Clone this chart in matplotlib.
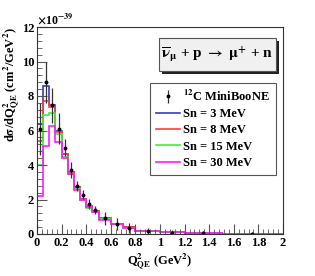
import matplotlib
matplotlib.use("Agg")
import matplotlib.pyplot as plt
import matplotlib.patches as mpatches
import numpy as np

plt.rcParams['font.family'] = ['Liberation Serif', 'DejaVu Serif']
plt.rcParams['font.weight'] = 'bold'
plt.rcParams['mathtext.fontset'] = 'stix'
plt.rcParams['mathtext.default'] = 'bf'

# Q2 bin edges (GeV^2)
edges = [0, 0.05, 0.1, 0.15, 0.2, 0.25, 0.3, 0.35, 0.4, 0.45, 0.5,
         0.6, 0.7, 0.8, 1.0, 1.2, 1.5, 2.0]

# model histograms (x 1e-39 cm^2/GeV^2)
sn3 = [6.4, 8.6, 7.45, 6.0, 4.65, 3.6, 2.75, 2.05, 1.65, 1.35, 0.9, 0.58, 0.38, 0.18, 0.09, 0.04, 0.01]
sn8 = [5.4, 7.7, 7.35, 5.9, 4.65, 3.6, 2.75, 2.05, 1.6, 1.35, 0.9, 0.58, 0.38, 0.18, 0.09, 0.04, 0.01]
sn15 = [4.0, 6.9, 7.0, 5.8, 4.45, 3.5, 2.6, 1.95, 1.5, 1.25, 0.85, 0.56, 0.37, 0.18, 0.09, 0.04, 0.01]
sn30 = [2.2, 5.1, 6.25, 5.35, 4.4, 3.5, 2.55, 1.95, 1.58, 1.29, 0.81, 0.56, 0.37, 0.17, 0.09, 0.04, 0.01]

# MiniBooNE data
q2_pts = [0.025, 0.075, 0.125, 0.175, 0.225, 0.275, 0.325, 0.375, 0.425, 0.475,
          0.55, 0.65, 0.75, 0.9, 1.1, 1.35, 1.75]
data = [6.1, 8.8, 7.45, 6.1, 5.0, 3.7, 2.8, 2.28, 1.74, 1.39, 0.91, 0.56, 0.35, 0.17, 0.08, 0.03, 0.01]
err = [1.5, 1.2, 1.0, 0.9, 0.5, 0.45, 0.3, 0.25, 0.28, 0.25, 0.37, 0.35, 0.3, 0.2, 0.15, 0.12, 0.1]

xticks = [0, 0.2, 0.4, 0.6, 0.8, 1.0, 1.2, 1.4, 1.6, 1.8, 2.0]
xtick_labels = ['0', '0.2', '0.4', '0.6', '0.8', '1', '1.2', '1.4', '1.6', '1.8', '2']
yticks = [0, 2, 4, 6, 8, 10, 12]
ytick_labels = ['0', '2', '4', '6', '8', '10', '12']

W, H = 315, 276
fig = plt.figure(figsize=(W / 100, H / 100), dpi=100)
ax = fig.add_axes([37 / W, (H - 234) / H, 246 / W, 207 / H])

lw = 1.2
ax.stairs(sn3, edges, color='#3a3ad0', lw=lw, label='Sn = 3 MeV')
ax.stairs(sn8, edges, color='#ff3c3c', lw=lw, label='Sn = 8 MeV')
ax.stairs(sn15, edges, color='#3cf03c', lw=lw, label='Sn = 15 MeV')
ax.stairs(sn30, edges, color='#ff1aff', lw=lw, label='Sn = 30 MeV')
eb = ax.errorbar(q2_pts, data, yerr=err, fmt='o', color='black', ecolor='#333333',
                 ms=1.8, elinewidth=0.9, capsize=0, label='$^{12}$C MiniBooNE')

ax.set_xlim(0, 2)
ax.set_ylim(0, 12)
ax.set_xticks(xticks)
ax.set_xticklabels(xtick_labels)
ax.set_yticks(yticks)
ax.set_yticklabels(ytick_labels)
ax.set_xticks(np.arange(0, 2.001, 0.04), minor=True)
ax.set_yticks(np.arange(0, 12.001, 0.4), minor=True)
ax.tick_params(which='both', direction='in', top=False, right=False,
               labelsize=9, pad=2, color='#555555')
ax.tick_params(which='major', length=7)
ax.tick_params(which='minor', length=3.5)
for lab in ax.get_xticklabels() + ax.get_yticklabels():
    lab.set_fontweight('bold')
for s in ax.spines.values():
    s.set_linewidth(0.8)
    s.set_color('#333333')

fig.text(37 / W, 1 - 27 / H, r'$\times$10$^{-39}$', fontsize=8.5,
         ha='left', va='bottom')
fig.text(160 / W, 1 - 262 / H, r'Q$^{2}_{\mathbf{QE}}$ (GeV$^{2}$)',
         fontsize=9, ha='center', va='center')
fig.text(12 / W, 1 - 27 / H,
         r'd$\sigma$/dQ$^{2}_{\mathbf{QE}}$ (cm$^{2}$/GeV$^{2}$)',
         fontsize=9, rotation=90, ha='center', va='top')

# title box with shadow
bx0, by0, bx1, by1 = 159, 38, 276, 71
fig.patches.append(mpatches.Rectangle((bx0 / W + 3 / W, 1 - by1 / H - 3 / H),
                                      (bx1 - bx0) / W, (by1 - by0) / H,
                                      transform=fig.transFigure, fc='#222222', ec='none'))
fig.patches.append(mpatches.Rectangle((bx0 / W, 1 - by1 / H),
                                      (bx1 - bx0) / W, (by1 - by0) / H,
                                      transform=fig.transFigure, fc='#f0f0f0',
                                      ec='#555555', lw=0.8))
fig.text((bx0 + bx1) / 2 / W, 1 - (by0 + by1) / 2 / H,
         r'$\overline{\nu}_{\mu}$ + p $\rightarrow$ $\mu^{+}$ + n',
         fontsize=11, ha='center', va='center')

handles, labels = ax.get_legend_handles_labels()
order = [4, 0, 1, 2, 3]
leg = ax.legend([handles[i] for i in order], [labels[i] for i in order],
                loc='upper right', bbox_to_anchor=(276 / W, 1 - 83 / H),
                bbox_transform=fig.transFigure, prop={'size': 9, 'weight': 'bold'},
                fancybox=False, framealpha=1, edgecolor='#555555',
                handlelength=1.9, handletextpad=0.3, labelspacing=0.35,
                borderpad=0.45, borderaxespad=0)
leg.get_frame().set_linewidth(0.8)

fig.savefig('out.png', dpi=100)
